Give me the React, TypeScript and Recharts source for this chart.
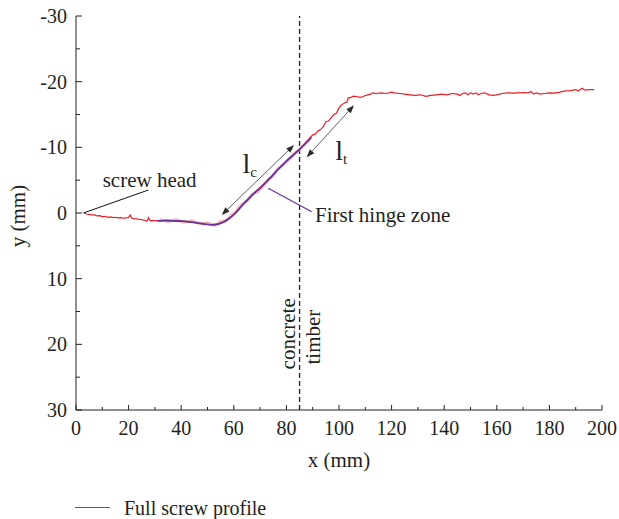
import React from 'react';
import { LineChart, Line, XAxis, YAxis, ReferenceLine, ReferenceDot, Label, Legend } from 'recharts';

const FONT = '"Liberation Serif", "Times New Roman", serif';
const INK = '#231f20';
const RED = '#ec1c24';
const PURPLE = '#6a2f9e';
const PINK = '#e8a2a2';

// full screw profile, x along screw (mm), y deflection (mm, negative = up)
const profileX = [
  3, 4, 5, 6, 7, 8, 9, 10, 11, 12, 13, 14, 15, 16, 17, 18, 19, 20, 20.6, 21.2,
  22, 23, 24, 25, 26, 27, 27.6, 28.2, 29, 30, 32, 34, 36, 38, 40, 42, 44, 46, 48, 50,
  52, 54, 56, 58, 60, 62, 64, 66, 68, 70, 72, 74, 76, 78, 80, 82, 84, 86, 88, 90,
  91, 92, 93, 94, 95, 96, 97, 98, 99, 100, 101, 102, 103, 103.5, 104.5, 105.5, 107, 108, 109, 110,
  111, 112, 113, 114, 116, 118, 120, 121, 123, 125, 127, 129, 131, 133, 135, 137, 139, 141, 143, 145,
  146, 147, 148, 149, 150, 151, 152, 153, 154, 155.5, 157, 158.5, 160, 162, 164, 166, 168, 170, 172, 173,
  174, 175, 176.5, 178, 180, 182, 184, 186, 188, 190, 191, 192.5, 193.5, 195, 197,
];
const profileY = [
  0, 0.15, 0.2, 0.3, 0.3, 0.45, 0.4, 0.55, 0.5, 0.65, 0.6, 0.7, 0.65, 0.75, 0.7, 0.8, 0.75, 0.7, 0.3, 0.8,
  0.85, 0.9, 0.95, 1.0, 1.1, 1.25, 0.7, 1.2, 1.15, 1.15, 1.2, 1.1, 1.15, 1.25, 1.2, 1.3, 1.4, 1.5, 1.65, 1.75,
  1.75, 1.6, 1.3, 0.9, 0.2, -0.7, -1.6, -2.4, -3.2, -3.9, -4.6, -5.4, -6.3, -7.1, -7.9, -8.6, -9.4, -10.1, -11.0, -11.9,
  -12.0, -12.5, -12.7, -13.1, -13.9, -14.0, -14.5, -15.0, -15.2, -16.0, -16.5, -16.7, -16.9, -17.5, -17.6, -17.8, -17.7, -17.6, -17.7, -17.9,
  -18.0, -18.1, -18.3, -18.2, -18.3, -18.2, -18.4, -18.3, -18.2, -18.1, -18.0, -17.9, -18.0, -17.75, -17.9, -18.0, -18.1, -18.0, -18.2, -18.1,
  -17.9, -18.2, -18.3, -18.0, -18.3, -18.1, -18.3, -18.0, -18.2, -18.3, -18.0, -17.9, -18.0, -18.2, -18.3, -18.25, -18.3, -18.35, -18.3, -18.5,
  -18.1, -18.3, -18.1, -18.2, -18.3, -18.25, -18.4, -18.6, -18.65, -18.8, -18.6, -19.0, -18.7, -18.8, -18.8,
];

// measured points in the first hinge zone (faint) and fitted curve (purple)
const scatterX = [32, 35, 38, 41, 44, 47, 50, 53, 55, 57, 59, 61, 63, 65, 67, 69, 71, 73, 75, 77, 79, 81, 83, 85, 87, 89];
const scatterY = [1.0, 1.3, 1.0, 1.4, 1.2, 1.6, 1.5, 1.9, 1.3, 1.2, 0.4, -0.3, -1.3, -1.8, -2.9, -3.2, -4.0, -5.1, -5.7, -6.8, -7.4, -8.2, -9.1, -9.6, -10.5, -11.2];
const hingeX = [31, 34, 37, 40, 43, 46, 49, 52, 54, 56, 58, 60, 62, 64, 66, 68, 70, 72, 74, 76, 78, 80, 82, 84, 86, 88, 89.5];
const hingeY = [1.2, 1.15, 1.2, 1.25, 1.35, 1.5, 1.7, 1.8, 1.7, 1.4, 0.9, 0.25, -0.6, -1.5, -2.3, -3.1, -3.8, -4.6, -5.4, -6.3, -7.1, -7.9, -8.6, -9.3, -10.1, -10.9, -11.5];

const xTicks = [0, 10, 20, 30, 40, 50, 60, 70, 80, 90, 100, 110, 120, 130, 140, 150, 160, 170, 180, 190, 200];
const yTicks = [-30, -25, -20, -15, -10, -5, 0, 5, 10, 15, 20, 25, 30];
const interfaceX = 85;

const profile = profileX.map((x, i) => ({ x, y: profileY[i] }));
const scatter = scatterX.map((x, i) => ({ x, y: scatterY[i] }));
const hinge = hingeX.map((x, i) => ({ x, y: hingeY[i] }));

function XTick(props: any) {
  const { x, y, payload } = props;
  const major = payload.value % 20 === 0;
  return (
    <g>
      <line x1={x} x2={x} y1={y} y2={y - (major ? 5 : 3)} stroke={INK} />
      {major && (
        <text x={x} y={y + 18} textAnchor="middle" dominantBaseline="central" fontFamily={FONT} fontSize={20} fill={INK}>
          {payload.value}
        </text>
      )}
    </g>
  );
}

function YTick(props: any) {
  const { x, y, payload } = props;
  const major = payload.value % 10 === 0;
  return (
    <g>
      <line x1={x} x2={x + (major ? 6 : 4)} y1={y} y2={y} stroke={INK} />
      {major && (
        <text x={x - 9} y={y} textAnchor="end" dominantBaseline="central" fontFamily={FONT} fontSize={20} fill={INK}>
          {payload.value}
        </text>
      )}
    </g>
  );
}

function Arrow(props: any) {
  const { x1, y1, x2, y2 } = props;
  const dx = x2 - x1;
  const dy = y2 - y1;
  const len = Math.hypot(dx, dy) || 1;
  const ux = dx / len;
  const uy = dy / len;
  const head = (px: number, py: number, dirx: number, diry: number) => {
    const bx = px - dirx * 8;
    const by = py - diry * 8;
    const nx = -diry * 3;
    const ny = dirx * 3;
    return `${px},${py} ${bx + nx},${by + ny} ${bx - nx},${by - ny}`;
  };
  return (
    <g>
      <line x1={x1 + ux * 5} y1={y1 + uy * 5} x2={x2 - ux * 5} y2={y2 - uy * 5} stroke="#3a3a3a" strokeWidth={0.8} />
      <polygon points={head(x2, y2, ux, uy)} fill="#2a2a2a" />
      <polygon points={head(x1, y1, -ux, -uy)} fill="#2a2a2a" />
    </g>
  );
}

const textAt = (content: React.ReactNode, anchor: string = 'middle', rotate = false) => (props: any) => {
  const { cx, cy } = props;
  return (
    <text
      x={cx}
      y={cy}
      textAnchor={anchor}
      dominantBaseline={rotate ? 'central' : 'auto'}
      transform={rotate ? `rotate(-90, ${cx}, ${cy})` : undefined}
      fontFamily={FONT}
      fontSize={21}
      fill={INK}
    >
      {content}
    </text>
  );
};

const subLabel = (main: string, sub: string) => (
  <>
    <tspan fontSize={28}>{main}</tspan>
    <tspan fontSize={15} dy={4}>{sub}</tspan>
  </>
);

function LegendBox() {
  return (
    <div style={{ height: 24 }}>
      <svg width={400} height={24} style={{ display: 'block' }}>
        <line x1={75} x2={110} y1={12.5} y2={12.5} stroke={RED} strokeWidth={1.2} />
        <text x={124} y={13} dominantBaseline="central" fontFamily={FONT} fontSize={20} fill={INK}>
          Full screw profile
        </text>
      </svg>
    </div>
  );
}

export default function App() {
  return (
    <div style={{ position: 'absolute', left: 0, top: 0, width: 619, height: 519 }}>
      <LineChart width={619} height={519} margin={{ top: 16, right: 17, bottom: 0, left: 0 }}>
        <XAxis
          type="number"
          dataKey="x"
          domain={[0, 200]}
          ticks={xTicks}
          interval={0}
          height={85}
          tickSize={0}
          tickMargin={0}
          tick={<XTick />}
          axisLine={{ stroke: INK }}
          allowDataOverflow
        >
          <Label
            content={(p: any) => (
              <text
                x={p.viewBox.x + p.viewBox.width / 2}
                y={p.viewBox.y + 57}
                textAnchor="middle"
                fontFamily={FONT}
                fontSize={21}
                fill={INK}
              >
                x (mm)
              </text>
            )}
          />
        </XAxis>
        <YAxis
          type="number"
          domain={[-30, 30]}
          reversed
          ticks={yTicks}
          interval={0}
          width={76}
          tickSize={0}
          tickMargin={0}
          tick={<YTick />}
          axisLine={{ stroke: INK }}
          allowDataOverflow
        >
          <Label
            content={(p: any) => {
              const cx = 18;
              const cy = p.viewBox.y + p.viewBox.height / 2 + 3;
              return (
                <text
                  x={cx}
                  y={cy}
                  textAnchor="middle"
                  dominantBaseline="central"
                  transform={`rotate(-90, ${cx}, ${cy})`}
                  fontFamily={FONT}
                  fontSize={21}
                  fill={INK}
                >
                  y (mm)
                </text>
              );
            }}
          />
        </YAxis>
        <Legend verticalAlign="bottom" align="left" content={() => <LegendBox />} />

        <ReferenceLine x={interfaceX} stroke={INK} strokeWidth={1.3} strokeDasharray="5 3" />

        <Line data={profile} dataKey="y" type="linear" stroke={RED} strokeWidth={1.2} dot={false} isAnimationActive={false} />
        <Line data={scatter} dataKey="y" type="linear" stroke={PINK} strokeOpacity={0.7} strokeWidth={3} dot={false} isAnimationActive={false} legendType="none" />
        <Line data={hinge} dataKey="y" type="monotone" stroke={PURPLE} strokeWidth={1.8} dot={false} isAnimationActive={false} legendType="none" />

        {/* screw head leader */}
        <ReferenceLine segment={[{ x: 2.8, y: 0 }, { x: 27.5, y: -3.5 }]} stroke="#111" strokeWidth={1} />
        <ReferenceDot x={28} y={-3.95} shape={textAt('screw head')} />

        {/* l_c and l_t */}
        <ReferenceLine segment={[{ x: 55.4, y: 0.3 }, { x: 82.9, y: -10.35 }]} shape={<Arrow />} />
        <ReferenceDot x={63.3} y={-6.1} shape={textAt(subLabel('l', 'c'), 'start')} />
        <ReferenceLine segment={[{ x: 87.7, y: -8.5 }, { x: 105.7, y: -16.4 }]} shape={<Arrow />} />
        <ReferenceDot x={98.6} y={-8.0} shape={textAt(subLabel('l', 't'), 'start')} />

        {/* first hinge zone leader */}
        <ReferenceLine segment={[{ x: 73.1, y: -3.76 }, { x: 89.6, y: -0.2 }]} stroke={PURPLE} strokeWidth={1.2} />
        <ReferenceDot x={90.9} y={1.32} shape={textAt('First hinge zone', 'start')} />

        {/* interface labels */}
        <ReferenceDot x={80.6} y={18.4} shape={textAt('concrete', 'middle', true)} />
        <ReferenceDot x={90.1} y={18.9} shape={textAt('timber', 'middle', true)} />
      </LineChart>
    </div>
  );
}
